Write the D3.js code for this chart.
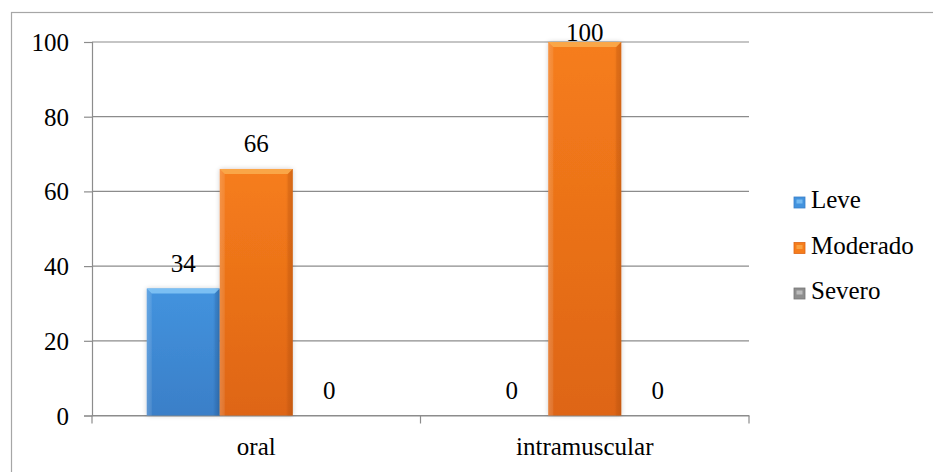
<!DOCTYPE html>
<html>
<head>
<meta charset="utf-8">
<script src="https://cdn.jsdelivr.net/npm/d3@7"></script>
<style>
  html, body { margin: 0; padding: 0; background: #fff; }
</style>
</head>
<body>
<svg id="chart" width="933" height="472"></svg>
<script>
// Chart data
const categories = ["oral", "intramuscular"];
const seriesNames = ["Leve", "Moderado", "Severo"];
const leve = [34, 0];
const moderado = [66, 100];
const severo = [0, 0];
const yTicks = [0, 20, 40, 60, 80, 100];

const seriesValues = [leve, moderado, severo];
const palette = [
  { base: "#4393de", light: "#82c4f5", dark: "#3a7fc8", edge: "#2d6fb8" },
  { base: "#f67d1c", light: "#fbab4c", dark: "#de6514", edge: "#c9580f" },
  { base: "#8e8e8e", light: "#c8c8c8", dark: "#767676", edge: "#666666" }
];

const svg = d3.select("#chart");
const W = 933, H = 472;
const plot = { left: 92, right: 749, top: 42, bottom: 415.5 };
const fontSize = 25;
const serif = "'Liberation Serif'";

const setFont = sel => sel.style("font-family", serif).attr("font-size", fontSize).attr("fill", "#000");

// Outer chart border
svg.append("rect")
  .attr("x", 11.5).attr("y", 12.5)
  .attr("width", W).attr("height", H)
  .attr("fill", "none").attr("stroke", "#a6a6a6").attr("stroke-width", 1.2);

const defs = svg.append("defs");
palette.forEach((c, i) => {
  const g = defs.append("linearGradient").attr("id", "vg" + i)
    .attr("x1", 0).attr("y1", 0).attr("x2", 0).attr("y2", 1);
  g.append("stop").attr("offset", "0%").attr("stop-color", c.base);
  g.append("stop").attr("offset", "100%").attr("stop-color", c.dark);
  const h = defs.append("linearGradient").attr("id", "hg" + i)
    .attr("x1", 0).attr("y1", 0).attr("x2", 1).attr("y2", 0);
  h.append("stop").attr("offset", "0%").attr("stop-color", "#fff").attr("stop-opacity", 0.12);
  h.append("stop").attr("offset", "8%").attr("stop-color", "#fff").attr("stop-opacity", 0);
  h.append("stop").attr("offset", "90%").attr("stop-color", "#000").attr("stop-opacity", 0);
  h.append("stop").attr("offset", "100%").attr("stop-color", "#000").attr("stop-opacity", 0.12);
});
const shadow = defs.append("filter").attr("id", "shadow")
  .attr("x", "-20%").attr("y", "-10%").attr("width", "140%").attr("height", "120%");
shadow.append("feGaussianBlur").attr("in", "SourceAlpha").attr("stdDeviation", 2.5).attr("result", "b");
shadow.append("feComponentTransfer").attr("in", "b").attr("result", "s")
  .append("feFuncA").attr("type", "linear").attr("slope", 0.2);
const merge = shadow.append("feMerge");
merge.append("feMergeNode").attr("in", "s");
merge.append("feMergeNode").attr("in", "SourceGraphic");

// Scales
const x0 = d3.scaleBand().domain(categories).range([plot.left, plot.right]).paddingInner(0).paddingOuter(0);
const x1 = d3.scaleBand().domain(seriesNames).range([0, x0.bandwidth()]).paddingInner(0).paddingOuter(0.75);
const y = d3.scaleLinear().domain([0, 100]).range([plot.bottom, plot.top]);

// Gridlines
svg.append("g").selectAll("line").data(yTicks).join("line")
  .attr("x1", plot.left).attr("x2", plot.right)
  .attr("y1", d => y(d)).attr("y2", d => y(d))
  .attr("stroke", "#8c8c8c").attr("stroke-width", 1.2);

// Y axis
const yAxis = svg.append("g").attr("transform", `translate(${plot.left},0)`)
  .call(d3.axisLeft(y).tickValues(yTicks).tickSize(8).tickPadding(15).tickFormat(d3.format("d")));
yAxis.attr("font-family", null).attr("font-size", null);
yAxis.select(".domain").attr("stroke", "#8c8c8c").attr("stroke-width", 1.2);
yAxis.selectAll(".tick line").attr("stroke", "#8c8c8c").attr("stroke-width", 1.2);
yAxis.selectAll(".tick text").call(setFont).attr("dy", "0.34em");

// X axis
const xAxis = svg.append("g").attr("transform", `translate(0,${plot.bottom})`)
  .call(d3.axisBottom(x0).tickSize(0).tickPadding(22));
xAxis.attr("font-family", null).attr("font-size", null);
xAxis.select(".domain").attr("stroke", "#8c8c8c").attr("stroke-width", 1.2);
xAxis.selectAll(".tick text").call(setFont).attr("dy", "0.71em");
// Category divider ticks
const dividers = [plot.left].concat(categories.map(c => x0(c) + x0.bandwidth()));
svg.append("g").selectAll("line").data(dividers).join("line")
  .attr("x1", d => d).attr("x2", d => d)
  .attr("y1", plot.bottom).attr("y2", plot.bottom + 8)
  .attr("stroke", "#8c8c8c").attr("stroke-width", 1.2);

// Bars
const records = [];
categories.forEach((cat, ci) => {
  seriesNames.forEach((s, si) => {
    records.push({ cat, s, si, v: seriesValues[si][ci] });
  });
});

const barG = svg.append("g");
records.filter(d => d.v > 0).forEach(d => {
  const bx = x0(d.cat) + x1(d.s);
  const bw = x1.bandwidth();
  const by = y(d.v);
  const bh = y(0) - by;
  const c = palette[d.si];
  const g = barG.append("g");
  g.append("rect").attr("x", bx).attr("y", by).attr("width", bw).attr("height", bh)
    .attr("fill", `url(#vg${d.si})`).attr("filter", "url(#shadow)");
  g.append("rect").attr("x", bx).attr("y", by).attr("width", bw).attr("height", bh)
    .attr("fill", `url(#hg${d.si})`);
  // bevelled top and side edges
  const bev = 5;
  g.append("path")
    .attr("d", `M${bx},${by} L${bx + bw},${by} L${bx + bw - bev},${by + bev} L${bx + bev},${by + bev} Z`)
    .attr("fill", c.light).attr("opacity", 0.9);
  g.append("path")
    .attr("d", `M${bx},${by} L${bx + bev},${by + bev} L${bx + bev},${by + bh} L${bx},${by + bh} Z`)
    .attr("fill", "#fff").attr("opacity", 0.08);
  g.append("path")
    .attr("d", `M${bx + bw},${by} L${bx + bw - bev},${by + bev} L${bx + bw - bev},${by + bh} L${bx + bw},${by + bh} Z`)
    .attr("fill", c.edge).attr("opacity", 0.3);
});

// Value labels
svg.append("g").selectAll("text").data(records).join("text")
  .attr("x", d => x0(d.cat) + x1(d.s) + x1.bandwidth() / 2)
  .attr("y", d => Math.max(y(d.v) - 17, plot.top - 1))
  .attr("text-anchor", "middle")
  .call(setFont)
  .text(d => d.v);

// Legend
const legend = svg.append("g").attr("transform", "translate(794,0)");
seriesNames.forEach((s, i) => {
  const by = 208 + i * 45.5;
  const c = palette[i];
  legend.append("rect").attr("x", 0).attr("y", by - 11).attr("width", 11).attr("height", 11)
    .attr("fill", c.base).attr("stroke", c.dark).attr("stroke-width", 0.8);
  legend.append("rect").attr("x", 2.5).attr("y", by - 8.5).attr("width", 6).attr("height", 4)
    .attr("fill", c.light).attr("opacity", 0.8);
  legend.append("text").attr("x", 17).attr("y", by)
    .call(setFont).text(s);
});
</script>
</body>
</html>
